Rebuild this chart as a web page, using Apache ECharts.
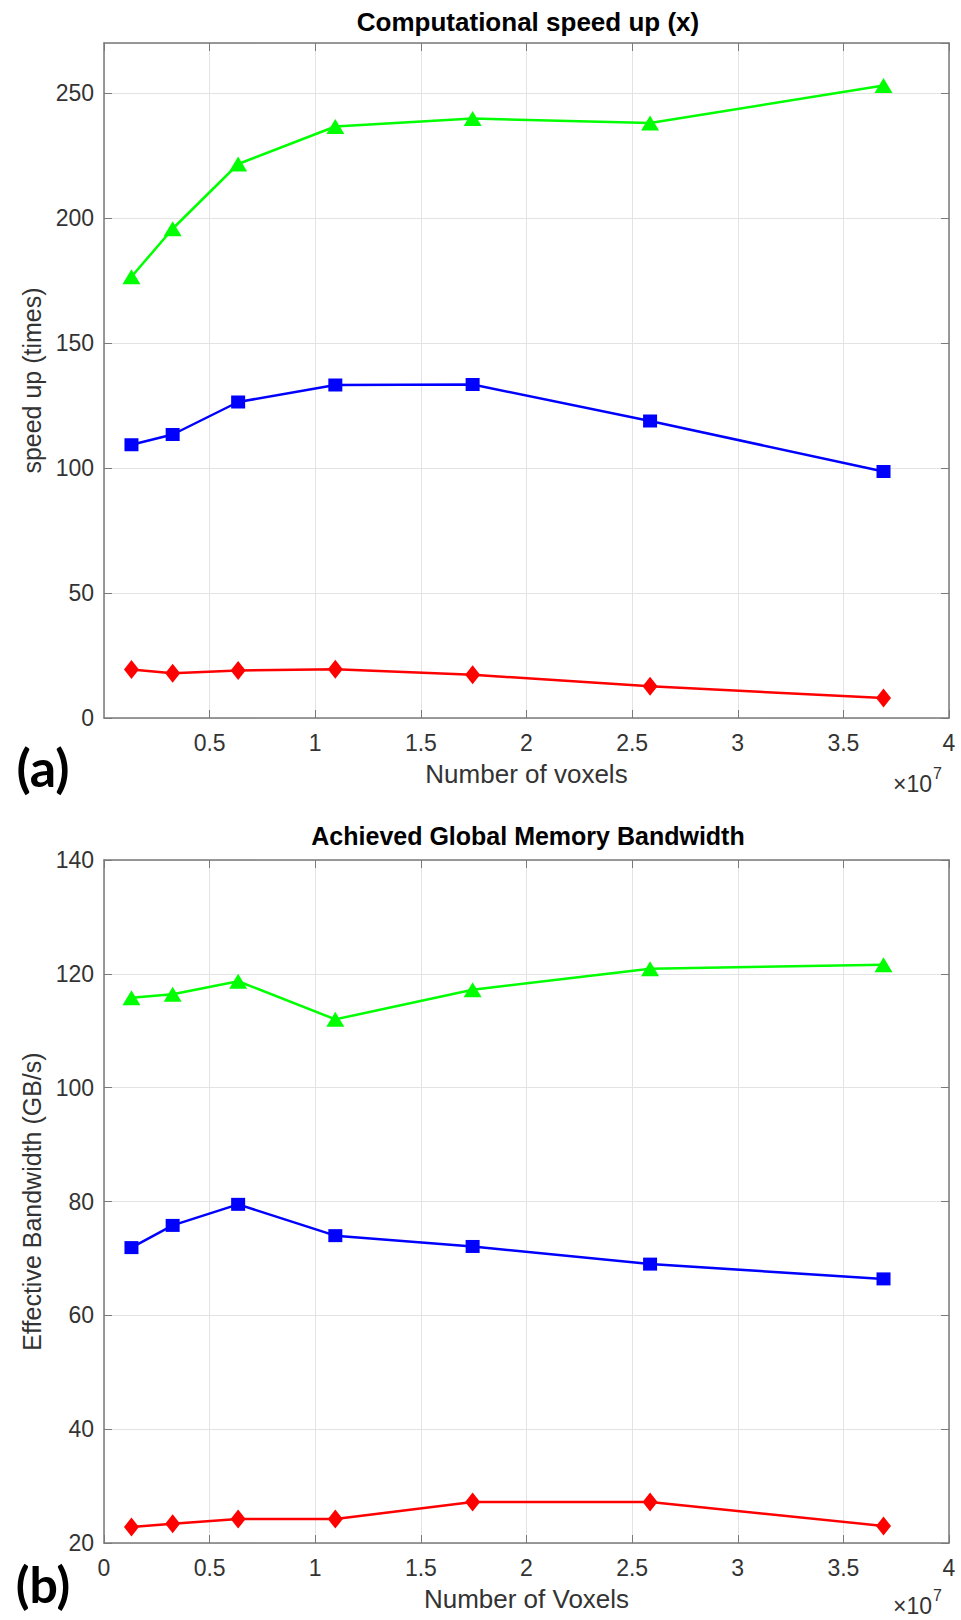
<!DOCTYPE html>
<html>
<head>
<meta charset="utf-8">
<title>Computational speed up / Achieved Global Memory Bandwidth</title>
<script src="https://cdn.jsdelivr.net/npm/echarts@6/dist/echarts.min.js"></script>
<style>
  html, body { margin: 0; padding: 0; background: #fff; }
  #chart { width: 961px; height: 1620px; }
</style>
</head>
<body>
<div id="chart"></div>
<script>
// number of voxels (x 10^7), same for both panels
const voxels = [0.13, 0.325, 0.635, 1.095, 1.745, 2.585, 3.69];

// (a) computational speed up (times)
const speedGreen = [176.5, 195.7, 221.6, 236.6, 239.8, 238.0, 253.0];
const speedBlue = [109.3, 113.4, 126.4, 133.2, 133.4, 118.8, 98.6];
const speedRed = [19.4, 17.9, 19.0, 19.5, 17.3, 12.7, 8.0];

// (b) effective bandwidth (GB/s)
const bwGreen = [115.8, 116.4, 118.7, 112.0, 117.2, 120.9, 121.6];
const bwBlue = [71.9, 75.8, 79.5, 74.0, 72.1, 69.0, 66.4];
const bwRed = [22.8, 23.4, 24.2, 24.2, 27.2, 27.2, 23.0];

const FONT = "'Liberation Sans', Arial, sans-serif";
const TXT = '#333';
const BOX = '#7a7a7a';
const GRID = '#e3e3e3';

const pairs = (ys) => voxels.map((x, i) => [x, ys[i]]);

function xAxes(grid, name, hideZero) {
  return [
    {
      gridIndex: grid, type: 'value', position: 'bottom',
      min: 0, max: 4, interval: 0.5,
      name: name, nameLocation: 'middle', nameGap: 43,
      nameTextStyle: { fontFamily: FONT, fontSize: 26, color: TXT },
      axisLine: { onZero: false, lineStyle: { color: BOX, width: 1.5 } },
      axisTick: { inside: true, length: 8, lineStyle: { color: BOX } },
      axisLabel: {
        showMinLabel: !hideZero, margin: 13,
        fontFamily: FONT, fontSize: 23, color: TXT,
        formatter: (v) => String(v)
      },
      splitLine: { show: true, lineStyle: { color: GRID, width: 1 } }
    },
    {
      gridIndex: grid, type: 'value', position: 'top',
      min: 0, max: 4, interval: 0.5,
      axisLine: { onZero: false, lineStyle: { color: BOX, width: 1.5 } },
      axisTick: { inside: true, length: 8, lineStyle: { color: BOX } },
      axisLabel: { show: false },
      splitLine: { show: false }
    }
  ];
}

function yAxes(grid, name, min, max, step, gap) {
  return [
    {
      gridIndex: grid, type: 'value', position: 'left',
      min: min, max: max, interval: step,
      name: name, nameLocation: 'middle', nameGap: gap,
      nameTextStyle: { fontFamily: FONT, fontSize: 25, color: TXT },
      axisLine: { show: true, onZero: false, lineStyle: { color: BOX, width: 1.5 } },
      axisTick: { show: true, inside: true, length: 8, lineStyle: { color: BOX } },
      axisLabel: { showMaxLabel: max % step === 0, margin: 10, fontFamily: FONT, fontSize: 23, color: TXT },
      splitLine: { show: true, lineStyle: { color: GRID, width: 1 } }
    },
    {
      gridIndex: grid, type: 'value', position: 'right',
      min: min, max: max, interval: step,
      axisLine: { show: true, onZero: false, lineStyle: { color: BOX, width: 1.5 } },
      axisTick: { show: true, inside: true, length: 8, lineStyle: { color: BOX } },
      axisLabel: { show: false },
      splitLine: { show: false }
    }
  ];
}

function line(ys, color, symbol, size, xi, yi) {
  return {
    type: 'line', xAxisIndex: xi, yAxisIndex: yi,
    data: pairs(ys),
    symbol: symbol, symbolSize: size,
    showAllSymbol: true,
    lineStyle: { color: color, width: 2.5 },
    itemStyle: { color: color, borderWidth: 0 },
    animation: false, silent: true
  };
}

function label(text, x, y, size, weight, family) {
  return {
    type: 'text', x: x, y: y,
    style: {
      text: text, fill: '#000', fontSize: size, fontWeight: weight,
      fontFamily: family, align: 'center', verticalAlign: 'middle'
    }
  };
}

function power(x, y) {
  return [
    { type: 'text', x: x, y: y, style: { text: '×10', fill: TXT, fontSize: 23, fontFamily: FONT, align: 'left', verticalAlign: 'middle' } },
    { type: 'text', x: x + 40, y: y - 11, style: { text: '7', fill: TXT, fontSize: 16, fontFamily: FONT, align: 'left', verticalAlign: 'middle' } }
  ];
}

const chart = echarts.init(document.getElementById('chart'), null, { renderer: 'svg' });

chart.setOption({
  backgroundColor: '#fff',
  animation: false,
  grid: [
    { left: 104, right: 12, top: 43, height: 675 },
    { left: 104, right: 12, top: 860, height: 683 }
  ],
  xAxis: [].concat(
    xAxes(0, 'Number of voxels', true),
    xAxes(1, 'Number of Voxels', false)
  ),
  yAxis: [].concat(
    yAxes(0, 'speed up (times)', 0, 270, 50, 58),
    yAxes(1, 'Effective Bandwidth (GB/s)', 20, 140, 20, 56)
  ),
  series: [
    line(speedGreen, '#00ff00', 'triangle', [18, 15], 0, 0),
    line(speedBlue, '#0000ff', 'rect', [14, 13], 0, 0),
    line(speedRed, '#ff0000', 'diamond', [15, 19], 0, 0),
    line(bwGreen, '#00ff00', 'triangle', [18, 15], 2, 2),
    line(bwBlue, '#0000ff', 'rect', [14, 13], 2, 2),
    line(bwRed, '#ff0000', 'diamond', [15, 19], 2, 2)
  ],
  graphic: [
    label('Computational speed up (x)', 528, 22, 26, 'bold', FONT),
    label('Achieved Global Memory Bandwidth', 528, 836, 25, 'bold', FONT),
    label('(a)', 43, 767, 52, 'bold', "Lato, 'Open Sans', sans-serif"),
    label('(b)', 43, 1584, 50, 'bold', "Lato, 'Open Sans', sans-serif")
  ].concat(power(893, 784), power(893, 1606))
});
</script>
</body>
</html>
